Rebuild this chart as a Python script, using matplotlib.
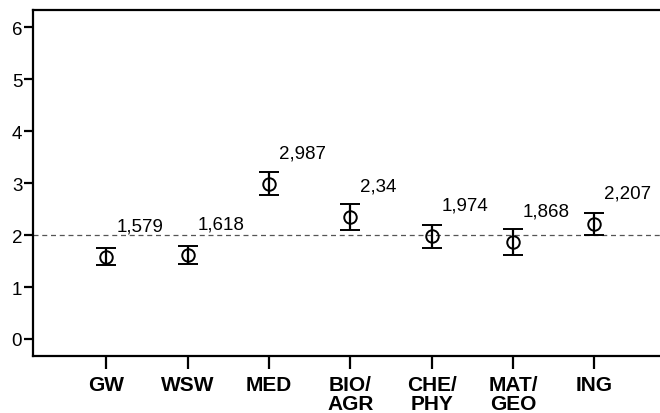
import matplotlib
matplotlib.use('Agg')
import matplotlib.pyplot as plt
import numpy as np

plt.rcParams['font.family'] = ['Liberation Sans', 'DejaVu Sans']

# Data
groups = ['GW', 'WSW', 'MED', 'BIO/\nAGR', 'CHE/\nPHY', 'MAT/\nGEO', 'ING']
means = [1.579, 1.618, 2.987, 2.34, 1.974, 1.868, 2.207]
ci_low = [1.42, 1.44, 2.77, 2.10, 1.75, 1.62, 2.00]
ci_high = [1.75, 1.79, 3.21, 2.60, 2.19, 2.12, 2.43]
ref_line = 2.0

x = np.arange(len(groups))
means_arr = np.array(means)
yerr = [means_arr - np.array(ci_low), np.array(ci_high) - means_arr]

fig = plt.figure(figsize=(6.6, 4.14), dpi=100)
ax = fig.add_axes([0.0505, 0.1377, 0.9495, 0.8369])

ax.axhline(ref_line, color='#555555', linestyle=(0, (4, 3)), linewidth=0.9, zorder=1)

# open circle with the CI line running through it
ax.errorbar(x, means, yerr=yerr, fmt='o', color='black', mfc='none',
            mec='black', markersize=9, mew=1.4, elinewidth=1.6,
            capsize=7.2, capthick=1.6, zorder=3)

# value labels next to each point
for xi, m in zip(x, means):
    ax.annotate(f'{m:g}'.replace('.', ','), xy=(xi, m), xytext=(7.2, 19.2),
                textcoords='offset points', ha='left', va='baseline',
                fontsize=13.5)

ax.set_xlim(-0.90, 6.81)
ax.set_ylim(-0.327, 6.34)
ax.set_yticks(range(0, 7))
ax.set_xticks(x)
ax.set_xticklabels(groups, fontweight='bold', fontsize=15, linespacing=1.05)

for s in ['left', 'bottom', 'top']:
    ax.spines[s].set_linewidth(1.6)
ax.spines['right'].set_visible(False)

ax.tick_params(axis='y', direction='out', length=6.5, width=1.6, pad=1.5,
               labelsize=13.5)
ax.tick_params(axis='x', direction='out', length=9.5, width=1.6, pad=4,
               labelsize=15)

fig.savefig('out.png', dpi=100)
